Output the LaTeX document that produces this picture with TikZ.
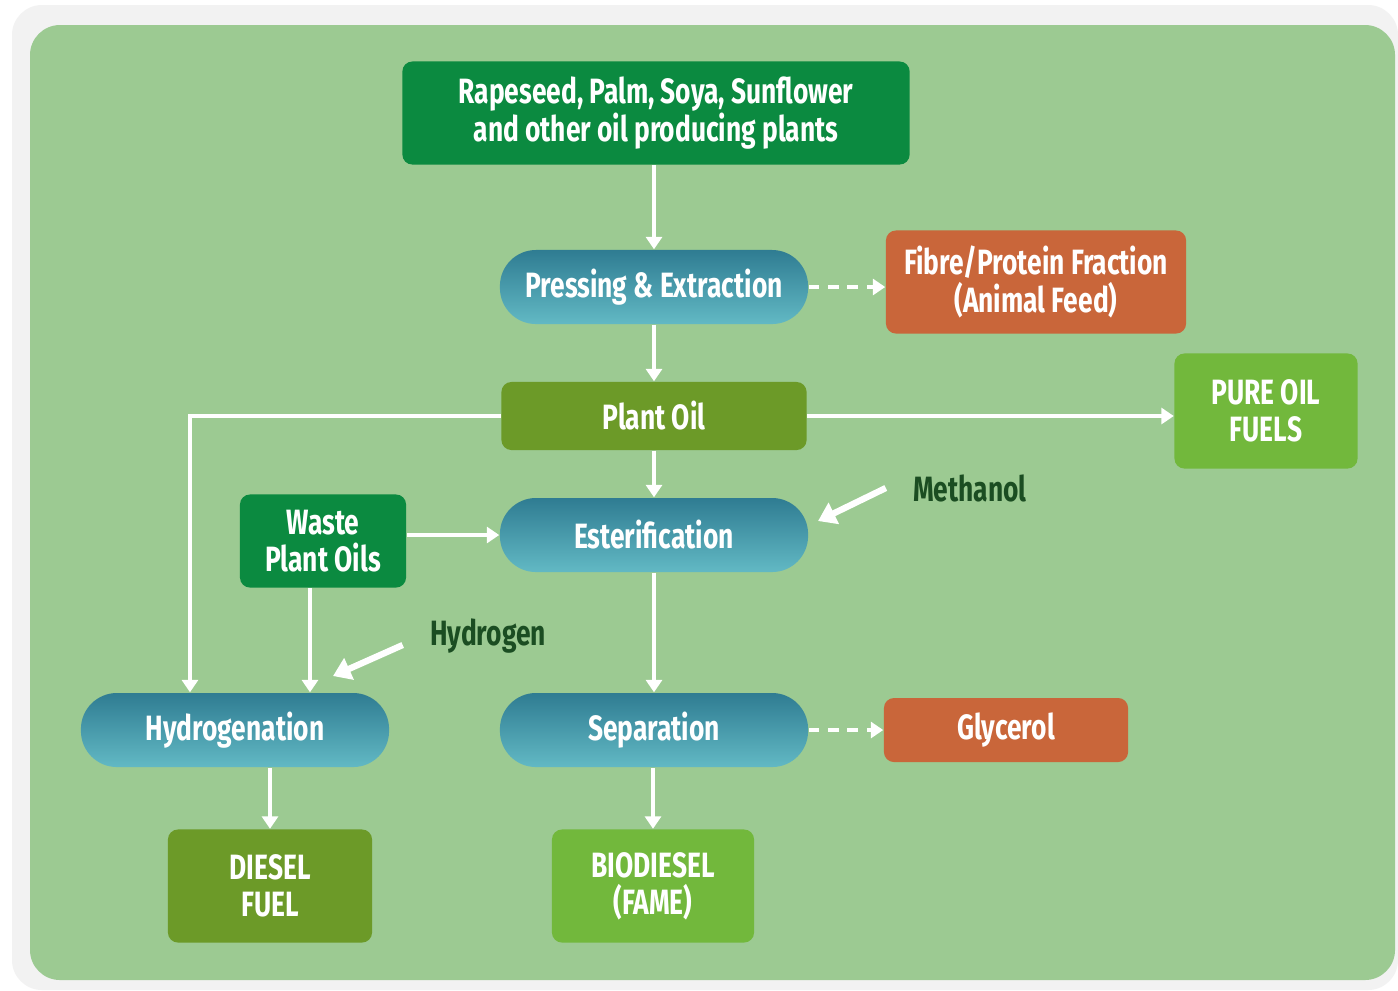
\documentclass[tikz,border=0pt]{standalone}
\usepackage{fontspec}
\setmainfont{Fira Sans}
\newfontfamily\boxfont[FakeStretch=0.75]{Fira Sans}
\usetikzlibrary{shapes,arrows.meta,positioning,calc}

\definecolor{bggreen}{HTML}{9CCA92}
\definecolor{framegrey}{HTML}{F2F2F2}
\definecolor{darkgreen}{HTML}{0B8A40}
\definecolor{olivegreen}{HTML}{6C9A28}
\definecolor{leafgreen}{HTML}{72B83C}
\definecolor{rust}{HTML}{C9663A}
\definecolor{tealtop}{HTML}{2F7C92}
\definecolor{tealbot}{HTML}{62B9C4}
\definecolor{labelgreen}{HTML}{1B4D22}

\newcommand\boxtext{\boxfont\bfseries\fontsize{10}{10.6}\selectfont\lineskiplimit -10pt\relax}

\begin{document}
\begin{tikzpicture}[x=0.01cm, y=-0.01cm,
    box/.style={rectangle, rounded corners=0.1cm, text=white, align=center, inner sep=0pt,
                font=\boxtext},
    pill/.style={box, rounded corners=0.36cm, top color=tealtop, bottom color=tealbot,
                 minimum width=3.08cm, minimum height=0.74cm},
    flow/.style={draw=white, line width=1.1pt, -{Triangle[length=3.5pt,width=4.5pt]}},
    side/.style={flow, dash pattern=on 3pt off 2.5pt},
    feed/.style={draw=white, line width=1.8pt, -{Triangle[length=5pt,width=6.5pt]}},
    lbl/.style={text=labelgreen, font=\boxtext}]

    % background
    \useasboundingbox[fill=white] (0,0) rectangle (1398,990);
    \fill[framegrey, rounded corners=0.3cm] (12,5) rectangle (1398,990);
    \fill[bggreen, rounded corners=0.3cm] (30,25) rectangle (1395,980);

    % nodes
    \node[box, fill=darkgreen, minimum width=5.07cm, minimum height=1.03cm] (plants) at (656,113) {Rapeseed, Palm, Soya, Sunflower\\and other oil producing plants};
    \node[pill] (press) at (654,287) {Pressing \& Extraction};
    \node[box, fill=rust, minimum width=3.0cm, minimum height=1.03cm] (fibre) at (1036,282) {Fibre/Protein Fraction\\(Animal Feed)};
    \node[box, fill=olivegreen, minimum width=3.05cm, minimum height=0.68cm] (oil) at (654,416) {Plant Oil};
    \node[box, fill=leafgreen, minimum width=1.83cm, minimum height=1.15cm] (pure) at (1266,411) {PURE OIL\\FUELS};
    \node[pill] (ester) at (654,535) {Esterification};
    \node[box, fill=darkgreen, minimum width=1.66cm, minimum height=0.93cm] (waste) at (323,541) {Waste\\Plant Oils};
    \node[pill] (hydro) at (235,730) {Hydrogenation};
    \node[pill] (sep) at (654,730) {Separation};
    \node[box, fill=rust, minimum width=2.44cm, minimum height=0.64cm] (glyc) at (1006,730) {Glycerol};
    \node[box, fill=olivegreen, minimum width=2.04cm, minimum height=1.13cm] (diesel) at (270,886) {DIESEL\\FUEL};
    \node[box, fill=leafgreen, minimum width=2.02cm, minimum height=1.13cm] (bio) at (653,886) {BIODIESEL\\(FAME)};
    \node[lbl] (meoh) at (970,488) {Methanol};
    \node[lbl] (h2) at (488,636) {Hydrogen};
    \coordinate (meohend) at (818,521);
    \coordinate (h2end) at (333,676);

    % connectors
    \draw[flow] (plants.south -| press.north) -- (press.north);
    \draw[flow] (press) -- (oil);
    \draw[side] (press.east) -- (press.east -| fibre.west);
    \draw[flow] (oil) -- (ester);
    \draw[flow] (oil.east) -- (oil.east -| pure.west);
    \draw[flow] (oil.west) -| ([xshift=-0.45cm]hydro.north);
    \draw[flow] (waste.east |- ester.west) -- (ester.west);
    \draw[flow] ([xshift=-0.13cm]waste.south) -- ([xshift=-0.13cm]waste.south |- hydro.north);
    \draw[flow] (ester) -- (sep);
    \draw[side] (sep.east) -- (glyc.west);
    \draw[flow] (sep.south -| bio.north) -- (bio.north);
    \draw[flow] (hydro.south -| diesel.north) -- (diesel.north);
    \draw[feed] ([xshift=-0.15cm]meoh.west) -- (meohend);
    \draw[feed] ([shift={(-15,9)}]h2.west) -- (h2end);
\end{tikzpicture}
\end{document}
